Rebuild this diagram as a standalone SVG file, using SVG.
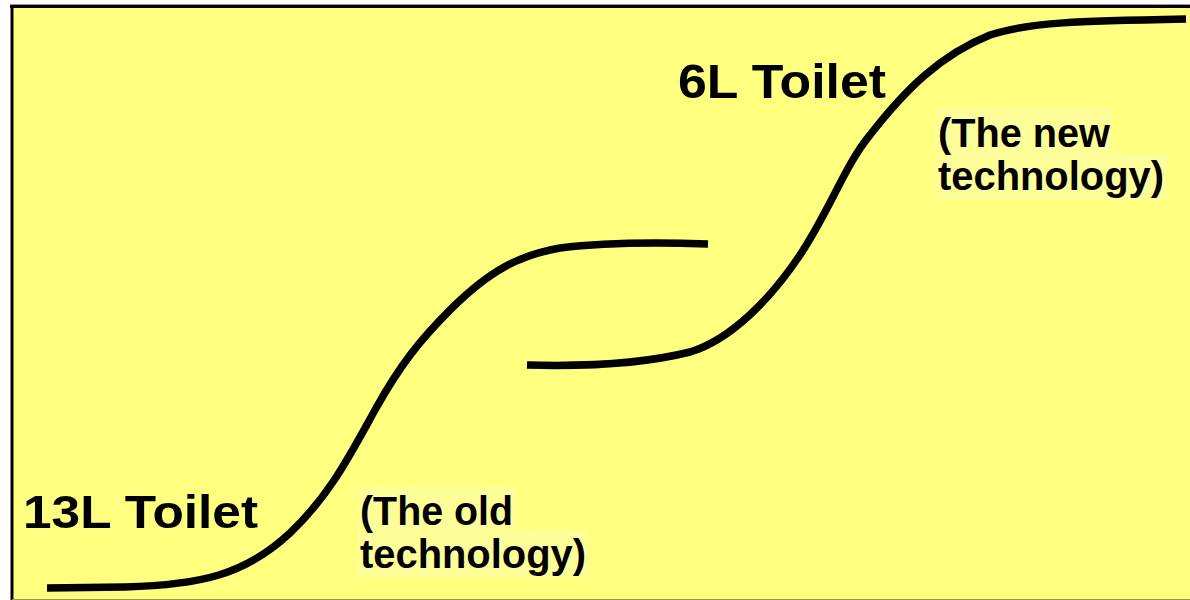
<svg xmlns="http://www.w3.org/2000/svg" width="1190" height="600" viewBox="0 0 1190 600">
  <style>
    .curve { fill: none; stroke: #000; stroke-width: 7.5; stroke-linecap: butt; stroke-linejoin: round; }
    .big { font-family: "Liberation Sans", Arial, sans-serif; font-weight: bold; fill: #000; }
    .hl { fill: #FFFF99; }
  </style>
  <rect x="0" y="0" width="1190" height="600" fill="#FFFFFF"/>
  <rect x="12" y="6" width="1178" height="594" fill="#FFFF80"/>
  <line x1="10" y1="4.5" x2="1190" y2="4.5" stroke="#999999" stroke-width="1"/>
  <line x1="10" y1="6.5" x2="1190" y2="6.5" stroke="#000" stroke-width="3"/>
  <line x1="12" y1="5" x2="12" y2="600" stroke="#000" stroke-width="3"/>
  <line x1="12" y1="599.5" x2="1190" y2="599.5" stroke="#99994D" stroke-width="1"/>

  <g id="connectors">
    <path id="old-curve" class="curve" d="M47,588 L125,587 C200,585 245,575 290,533 C330,495 350,455 375,410 C400,365 420,340 450,310 C490,270 520,255 560,248 C600,243 650,242 708,244"/>
    <path id="new-curve" class="curve" d="M527,365 C600,367 650,362 690,352 C730,340 770,300 800,255 C830,210 845,165 870,135 C905,90 940,55 990,35 C1030,22 1080,21 1186,19"/>
  </g>

  <g id="label-13L">
    <text class="big" x="23" y="528" font-size="46" textLength="235" lengthAdjust="spacingAndGlyphs">13L Toilet</text>
  </g>
  <g id="label-old">
    <rect class="hl" x="358" y="487" width="157" height="43"/>
    <rect class="hl" x="358" y="530" width="230" height="47"/>
    <text class="big" x="360" y="525" font-size="40" textLength="153" lengthAdjust="spacingAndGlyphs">(The old</text>
    <text class="big" x="360" y="568" font-size="40" textLength="226" lengthAdjust="spacingAndGlyphs">technology)</text>
  </g>
  <g id="label-6L">
    <text class="big" x="678" y="98" font-size="49" textLength="208" lengthAdjust="spacingAndGlyphs">6L Toilet</text>
  </g>
  <g id="label-new">
    <rect class="hl" x="935" y="107" width="177" height="46"/>
    <rect class="hl" x="935" y="153" width="232" height="47"/>
    <text class="big" x="938" y="147" font-size="40" textLength="172" lengthAdjust="spacingAndGlyphs">(The new</text>
    <text class="big" x="938" y="190" font-size="40" textLength="226" lengthAdjust="spacingAndGlyphs">technology)</text>
  </g>
</svg>
